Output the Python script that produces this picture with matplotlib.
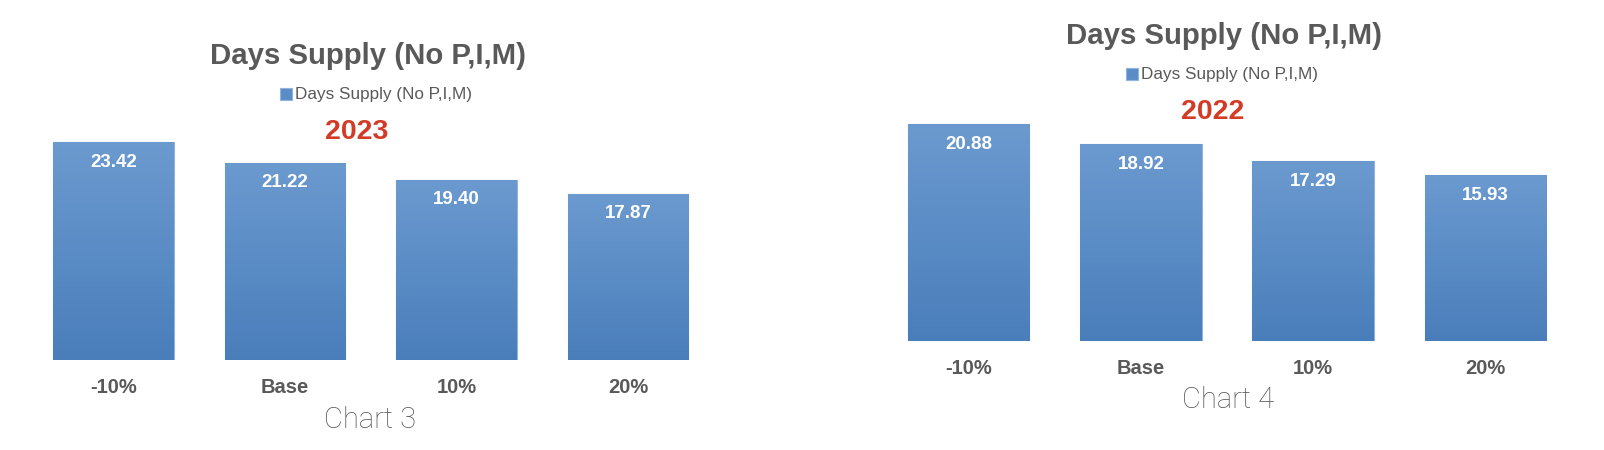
import matplotlib
matplotlib.use("Agg")
import matplotlib.pyplot as plt
import numpy as np
from matplotlib.colors import LinearSegmentedColormap

# data
categories = ["-10%", "Base", "10%", "20%"]
values_2023 = [23.42, 21.22, 19.40, 17.87]
values_2022 = [20.88, 18.92, 17.29, 15.93]
series_name = "Days Supply (No P,I,M)"

W, H = 1604, 450
fig = plt.figure(figsize=(W / 100, H / 100), dpi=100)
plt.rcParams['font.family'] = ['Liberation Sans', 'DejaVu Sans']

grey = "#595959"
red = "#d23c27"
grad = LinearSegmentedColormap.from_list("g", ["#4a7ebb", "#6b9acf"])


def fx(px):
    return px / W


def fy(py):
    return 1 - py / H


def draw_chart(left, bottom, width, height, values, year, label, pos):
    ax = fig.add_axes([fx(left), fy(bottom), fx(width), height / H])
    x = np.arange(len(categories))
    bars = ax.bar(x, values, width=0.705, color="#5b8cc6", edgecolor="#8fb4e0",
                  linewidth=0.8, label=series_name)
    # vertical gradient inside every bar
    g = np.linspace(0, 1, 256).reshape(-1, 1)
    for b in bars:
        bx, by = b.get_x(), b.get_y()
        im = ax.imshow(g, cmap=grad, aspect="auto", origin="lower",
                       extent=[bx, bx + b.get_width(), by, by + b.get_height()], zorder=2)
        im.set_clip_path(b)
    for xi, v in zip(x, values):
        ax.annotate(f"{v:.2f}", (xi, v), xytext=(0, -14.5), textcoords="offset points",
                    ha="center", va="center", color="white", fontsize=13.5,
                    fontweight="bold", zorder=3)
    ax.set_xlim(-0.5, len(categories) - 0.5)
    ax.set_ylim(0, 25)
    ax.set_xticks(x, categories)
    ax.tick_params(axis="x", length=0, pad=13, labelsize=14.5, labelcolor=grey)
    for t in ax.get_xticklabels():
        t.set_fontweight("bold")
    ax.set_yticks([])
    for s in ax.spines.values():
        s.set_visible(False)

    (tx, ty), (lx, ly), (yx, yy), (cx, cy) = pos
    fig.text(fx(tx), fy(ty), series_name, ha="center", va="center",
             fontsize=21.2, fontweight="bold", color=grey)
    ax.legend(loc="center", bbox_to_anchor=(fx(lx), fy(ly)), bbox_transform=fig.transFigure,
              frameon=False, fontsize=12.3, labelcolor=grey, handlelength=0.7,
              handleheight=0.7, handletextpad=0.2)
    fig.text(fx(yx), fy(yy), year, ha="center", va="center",
             fontsize=20.5, fontweight="bold", color=red)
    fig.text(fx(cx), fy(cy), label, ha="center", va="center",
             fontsize=21, color="#555555", family=["Roboto", "DejaVu Sans"], fontweight="light")
    return ax


# Chart 3 (2023)
draw_chart(27.75, 360, 686, 25 * 9.3, values_2023, "2023", "Chart 3",
           [(368, 56), (376, 95), (357, 132), (370, 420)])

# Chart 4 (2022)
draw_chart(882.5, 341, 689, 25 * 10.39, values_2022, "2022", "Chart 4",
           [(1224, 36), (1222, 75), (1213, 112), (1228, 400)])

fig.savefig("out.png", dpi=100)
